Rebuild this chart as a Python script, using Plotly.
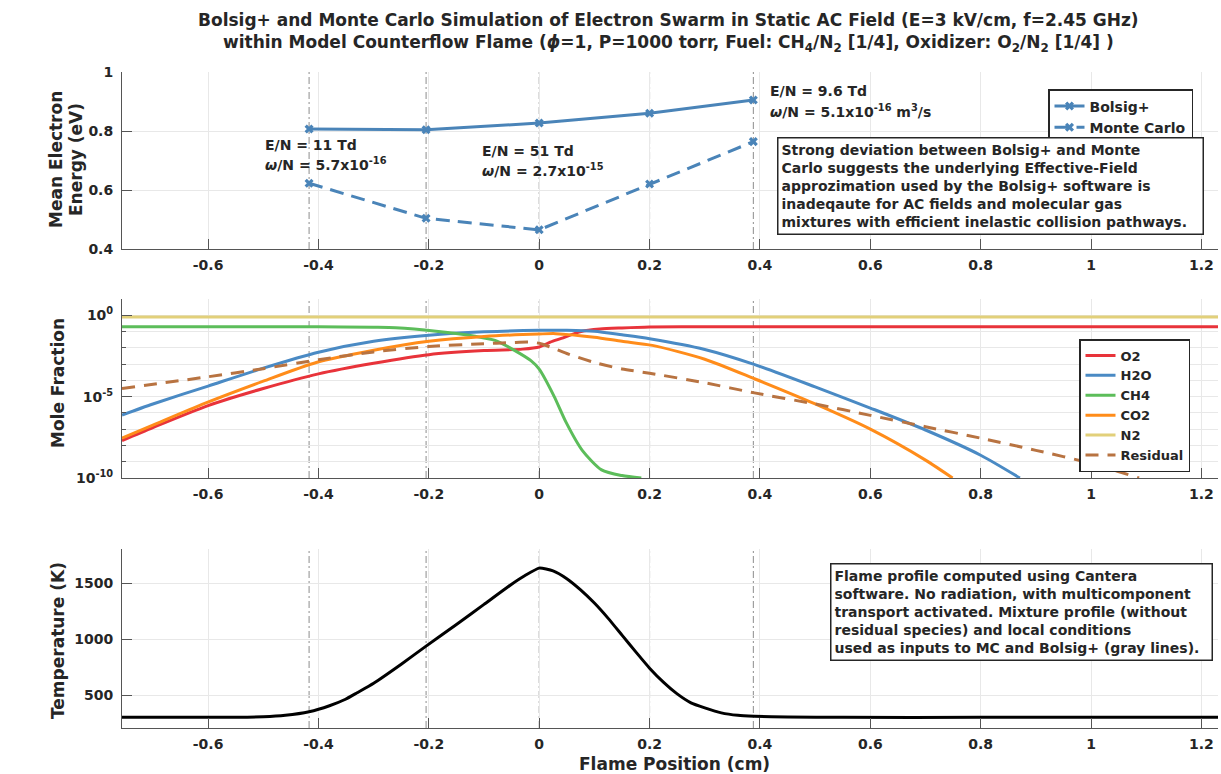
import plotly.graph_objects as go

# ---------------- data ----------------
# positions (cm) at which the electron swarm was evaluated (gray lines)
sample_x = [-0.417, -0.205, 0.0, 0.2, 0.388]
bolsig_energy = [0.807, 0.804, 0.827, 0.860, 0.905]
mc_energy = [0.623, 0.504, 0.465, 0.620, 0.764]

# mole fractions, stored as log10 values
o2_x = [-0.756, -0.7, -0.6, -0.5, -0.4, -0.3, -0.2, -0.1, -0.03, 0.0, 0.02, 0.04, 0.076, 0.11, 0.15, 0.2, 0.3, 0.6, 1.23]
o2_log = [-7.7, -6.9, -5.55, -4.5, -3.6, -2.95, -2.42, -2.17, -2.08, -1.95, -1.65, -1.42, -1.0, -0.85, -0.78, -0.72, -0.70, -0.70, -0.70]

h2o_x = [-0.756, -0.7, -0.6, -0.5, -0.4, -0.3, -0.2, -0.1, 0.0, 0.05, 0.1, 0.15, 0.2, 0.3, 0.388, 0.5, 0.6, 0.7, 0.8, 0.871]
h2o_log = [-6.13, -5.45, -4.35, -3.25, -2.27, -1.6, -1.23, -1.02, -0.92, -0.92, -0.98, -1.2, -1.44, -2.1, -3.0, -4.4, -5.7, -7.05, -8.6, -10.0]

ch4_x = [-0.756, -0.6, -0.4, -0.3, -0.26, -0.187, -0.116, -0.08, -0.044, -0.015, 0.0, 0.027, 0.049, 0.078, 0.113, 0.15, 0.185]
ch4_log = [-0.7, -0.7, -0.71, -0.74, -0.77, -0.98, -1.29, -1.54, -2.17, -2.79, -3.31, -4.98, -6.6, -8.3, -9.5, -9.85, -10.0]

co2_x = [-0.756, -0.7, -0.605, -0.5, -0.404, -0.3, -0.2, -0.1, 0.0, 0.03, 0.1, 0.15, 0.205, 0.3, 0.39, 0.5, 0.6, 0.7, 0.749]
co2_log = [-7.55, -6.75, -5.4, -4.05, -2.9, -2.15, -1.6, -1.3, -1.15, -1.13, -1.35, -1.6, -1.85, -2.7, -3.9, -5.45, -7.0, -8.9, -10.0]

n2_x = [-0.756, -0.4, 0.0, 0.4, 0.8, 1.23]
n2_log = [-0.1, -0.1, -0.1, -0.1, -0.1, -0.1]

res_x = [-0.756, -0.6, -0.5, -0.4, -0.3, -0.2, -0.1, -0.05, -0.02, 0.0, 0.02, 0.05, 0.1, 0.15, 0.2, 0.3, 0.39, 0.5, 0.6, 0.7, 0.8, 0.9, 1.0, 1.087]
res_log = [-4.5, -3.78, -3.28, -2.73, -2.25, -1.92, -1.75, -1.68, -1.65, -1.72, -1.95, -2.35, -2.9, -3.3, -3.56, -4.15, -4.77, -5.45, -6.15, -6.85, -7.55, -8.3, -9.1, -10.0]

# temperature profile (K)
temp_x = [-0.756, -0.65, -0.55, -0.5, -0.46, -0.417, -0.38, -0.351, -0.33, -0.3, -0.25, -0.205, -0.15, -0.1, -0.05, -0.025, 0.0,
          0.025, 0.05, 0.075, 0.1, 0.125, 0.15, 0.175, 0.2, 0.225, 0.25, 0.275, 0.3, 0.33, 0.36, 0.39, 0.45, 0.55, 0.8, 1.0, 1.23]
temp_k = [300, 300, 301, 305, 318, 350, 404, 462, 520, 605, 775, 937, 1130, 1310, 1490, 1570, 1634,
          1610, 1540, 1440, 1322, 1185, 1035, 885, 740, 615, 510, 430, 385, 340, 318, 310, 303, 300, 300, 300, 300]

x_ticks = [-0.6, -0.4, -0.2, 0, 0.2, 0.4, 0.6, 0.8, 1.0, 1.2]
x_tick_text = ["-0.6", "-0.4", "-0.2", "0", "0.2", "0.4", "0.6", "0.8", "1", "1.2"]

# ---------------- styling ----------------
FONT = "DejaVu Sans"
TXT = "#262626"
AX = "#555555"
GRID = "#e8e8e8"
STEEL = "#4a84b8"
X_RANGE = [-0.756, 1.23]
W, H = 1221, 774

fig = go.Figure()

# top panel: mean electron energy
fig.add_trace(go.Scatter(x=sample_x, y=bolsig_energy, name="Bolsig+", mode="lines+markers",
                         line=dict(color=STEEL, width=3), marker=dict(symbol="x", size=8, color=STEEL),
                         xaxis="x", yaxis="y", legend="legend"))
fig.add_trace(go.Scatter(x=sample_x, y=mc_energy, name="Monte Carlo", mode="lines+markers",
                         line=dict(color=STEEL, width=3, dash="14px,8px"),
                         marker=dict(symbol="x", size=8, color=STEEL),
                         xaxis="x", yaxis="y", legend="legend"))

# middle panel: species mole fractions
species = [
    ("O2", o2_x, o2_log, "#e8333a", "solid"),
    ("H2O", h2o_x, h2o_log, "#4a8ac4", "solid"),
    ("CH4", ch4_x, ch4_log, "#5cbd5a", "solid"),
    ("CO2", co2_x, co2_log, "#ff8c1a", "solid"),
    ("N2", n2_x, n2_log, "#e2d07a", "solid"),
    ("Residual", res_x, res_log, "#b87341", "13px,9px"),
]
for name, xs, logs, color, dash in species:
    fig.add_trace(go.Scatter(x=xs, y=[10 ** v for v in logs], name=name, mode="lines",
                             line=dict(color=color, width=3, dash=dash, shape="spline", smoothing=0.7),
                             xaxis="x2", yaxis="y2", legend="legend2"))

# bottom panel: temperature
fig.add_trace(go.Scatter(x=temp_x, y=temp_k, mode="lines", showlegend=False,
                         line=dict(color="black", width=3, shape="spline", smoothing=0.5),
                         xaxis="x3", yaxis="y3"))

# gray sample-position lines in every panel
for xr, yr in [("x", "y"), ("x2", "y2"), ("x3", "y3")]:
    for sx in sample_x:
        fig.add_shape(type="line", xref=xr, yref=yr + " domain", x0=sx, x1=sx, y0=0, y1=1,
                      line=dict(color="#8c8c8c", width=1, dash="7px,3px,2px,3px"), layer="below")

xdom = [122 / W, 1218 / W]


def ydom(top_px, bottom_px):
    return [1 - bottom_px / H, 1 - top_px / H]


tickfont = dict(family=FONT, size=14, color=TXT, weight="bold")
xcommon = dict(range=X_RANGE, domain=xdom, tickmode="array", tickvals=x_ticks, ticktext=x_tick_text,
               ticks="inside", ticklen=10, tickcolor=AX, showline=True, linecolor=AX, linewidth=1,
               showgrid=True, gridcolor=GRID, zeroline=False, tickfont=tickfont, ticklabelstandoff=3,
               automargin=False)
ycommon = dict(ticks="inside", ticklen=10, tickcolor=AX, showline=True, linecolor=AX, linewidth=1,
               showgrid=True, gridcolor=GRID, zeroline=False, tickfont=tickfont, ticklabelstandoff=5,
               automargin=False)

decades = [10.0 ** k for k in range(-10, 2)]

fig.update_layout(
    width=W, height=H,
    margin=dict(l=0, r=0, t=0, b=0, autoexpand=False),
    paper_bgcolor="white", plot_bgcolor="white",
    font=dict(family=FONT, color=TXT, weight="bold"),
    xaxis=dict(xcommon, anchor="y"),
    yaxis=dict(ycommon, domain=ydom(72, 249), range=[0.4, 1.0], tickmode="array",
               tickvals=[0.4, 0.6, 0.8, 1.0], ticktext=["0.4", "0.6", "0.8", "1"], anchor="x"),
    xaxis2=dict(xcommon, anchor="y2"),
    yaxis2=dict(ycommon, type="log", domain=ydom(299, 478), range=[-10, 1], tickmode="array",
                tickvals=[1e-10, 1e-5, 1e0],
                ticktext=["10<sup>-10</sup>", "10<sup>-5</sup>", "10<sup>0</sup>"],
                minor=dict(tickmode="array", tickvals=decades, ticks="inside", ticklen=4,
                           tickcolor=AX, showgrid=True, gridcolor=GRID),
                anchor="x2"),
    xaxis3=dict(xcommon, anchor="y3"),
    yaxis3=dict(ycommon, domain=ydom(549, 728), range=[205, 1805], tickmode="array",
                tickvals=[500, 1000, 1500], ticktext=["500", "1000", "1500"], anchor="x3"),
    legend=dict(x=1048 / W, y=1 - 89 / H, xanchor="left", yanchor="top",
                bgcolor="white", bordercolor="#262626", borderwidth=1.5,
                font=dict(family=FONT, size=14, color=TXT, weight="bold"),
                tracegroupgap=0, itemwidth=30),
    legend2=dict(x=1079 / W, y=1 - 339 / H, xanchor="left", yanchor="top",
                 bgcolor="white", bordercolor="#262626", borderwidth=1.5,
                 font=dict(family=FONT, size=13, color=TXT, weight="bold"),
                 tracegroupgap=0, itemwidth=30),
)

ann_font = dict(family=FONT, size=14, color=TXT, weight="bold")
axis_font = dict(family=FONT, size=17, color=TXT, weight="bold")


def px_note(text, x_px, y_px, xanchor="center", yanchor="middle", **kw):
    fig.add_annotation(text=text, x=x_px / W, y=1 - y_px / H, xref="paper", yref="paper",
                       xanchor=xanchor, yanchor=yanchor,
                       showarrow=False, font=kw.pop("font", ann_font), **kw)


# figure title (two lines)
px_note("Bolsig+ and Monte Carlo Simulation of Electron Swarm in Static AC Field (E=3 kV/cm, f=2.45 GHz)",
        668, 20, font=axis_font)
px_note("within Model Counterflow Flame (<i>ϕ</i>=1, P=1000 torr, Fuel: CH<sub>4</sub>/N<sub>2</sub> [1/4], "
        "Oxidizer: O<sub>2</sub>/N<sub>2</sub> [1/4] )", 668, 44, font=axis_font)

# field labels at the sample positions
px_note("E/N = 11 Td", 263, 145, xanchor="left")
px_note("<i>ω</i>/N = 5.7x10<sup>-16</sup>", 263, 164, xanchor="left")
px_note("E/N = 51 Td", 480, 151, xanchor="left")
px_note("<i>ω</i>/N = 2.7x10<sup>-15</sup>", 480, 170, xanchor="left")
px_note("E/N = 9.6 Td", 768, 91, xanchor="left")
px_note("<i>ω</i>/N = 5.1x10<sup>-16</sup> m<sup>3</sup>/s", 768, 111, xanchor="left")

# explanatory boxes
px_note("Strong deviation between Bolsig+ and Monte<br>"
        "Carlo suggests the underlying Effective-Field<br>"
        "approzimation used by the Bolsig+ software is<br>"
        "inadeqaute for AC fields and molecular gas<br>"
        "mixtures with efficient inelastic collision pathways.",
        777, 137, xanchor="left", yanchor="top", align="left", width=418,
        bordercolor="#262626", borderwidth=1.5, borderpad=3, bgcolor="white")
px_note("Flame profile computed using Cantera<br>"
        "software. No radiation, with multicomponent<br>"
        "transport activated. Mixture profile (without<br>"
        "residual species) and local conditions<br>"
        "used as inputs to MC and Bolsig+ (gray lines).",
        830, 563, xanchor="left", yanchor="top", align="left", width=374,
        bordercolor="#262626", borderwidth=1.5, borderpad=3, bgcolor="white")

# axis titles
px_note("Mean Electron", 56, 160, textangle=-90, font=axis_font)
px_note("Energy (eV)", 76, 160, textangle=-90, font=axis_font)
px_note("Mole Fraction", 58, 383, textangle=-90, font=axis_font)
px_note("Temperature (K)", 58, 641, textangle=-90, font=axis_font)
px_note("Flame Position (cm)", 674, 764, font=axis_font)

fig.write_html("out.html")
